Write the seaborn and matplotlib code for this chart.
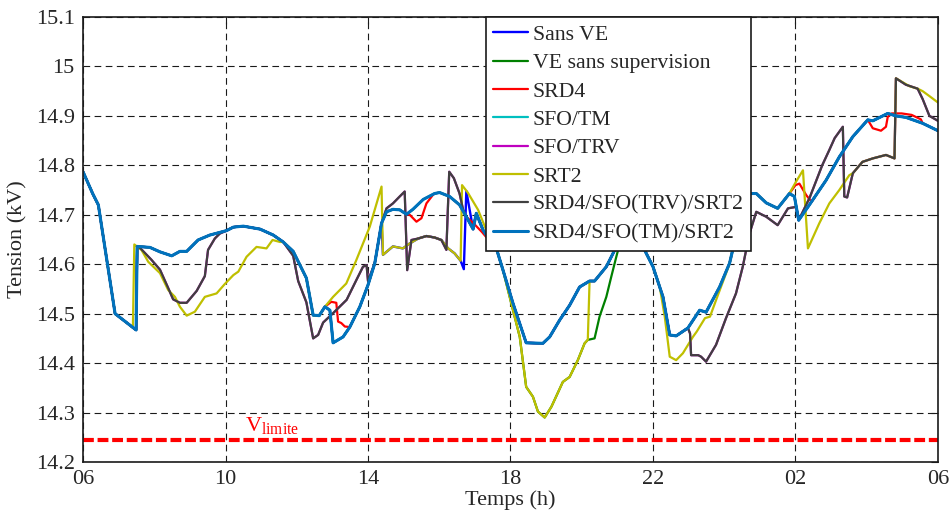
import numpy as np
import pandas as pd
import seaborn as sns
import matplotlib.pyplot as plt

# heures (6 -> 30 = 06h du lendemain) et tension (kV)
base_h = [6.00, 6.27, 6.43, 6.90, 7.49, 7.52, 7.88, 8.16, 8.49, 8.72, 8.91, 9.23, 9.56,
          10.03, 10.22, 10.50, 10.97, 11.34, 11.62, 11.90, 12.27, 12.46, 12.63, 12.79,
          12.93, 13.02, 13.30, 13.49, 13.77, 14.00, 14.19, 14.38, 14.52, 14.70, 14.89,
          15.08, 15.26, 15.55, 15.87, 16.01, 16.29, 16.57, 16.76, 16.95, 17.04, 17.23,
          17.40, 17.56, 17.79, 18.07, 18.44, 18.91, 19.10, 19.38, 19.66, 19.94, 20.22,
          20.36, 20.69, 20.97, 21.35, 21.72, 22.00, 22.28, 22.47, 22.65, 22.98, 23.31,
          23.49, 23.87, 24.15, 24.60, 24.76, 24.90, 25.18, 25.50, 25.83, 25.97, 26.09,
          26.39, 26.86, 27.23, 27.61, 28.03, 28.17, 28.59, 28.82, 29.10, 29.57, 30.00]
base_kv = [14.787, 14.743, 14.720, 14.500, 14.467, 14.636, 14.634, 14.625, 14.617, 14.626,
           14.626, 14.649, 14.659, 14.668, 14.675, 14.677, 14.671, 14.659, 14.645, 14.626,
           14.572, 14.497, 14.496, 14.514, 14.507, 14.441, 14.453, 14.473, 14.514, 14.558,
           14.602, 14.683, 14.706, 14.711, 14.710, 14.701, 14.711, 14.731, 14.743, 14.745,
           14.737, 14.720, 14.696, 14.671, 14.703, 14.669, 14.650, 14.642, 14.588, 14.521,
           14.441, 14.440, 14.453, 14.487, 14.517, 14.554, 14.566, 14.566, 14.595, 14.635,
           14.690, 14.635, 14.595, 14.534, 14.457, 14.455, 14.471, 14.507, 14.503, 14.554,
           14.602, 14.740, 14.743, 14.743, 14.724, 14.713, 14.743, 14.737, 14.689, 14.720,
           14.770, 14.817, 14.858, 14.892, 14.890, 14.905, 14.900, 14.897, 14.885, 14.870]

# SRT2 : portions qui s'écartent de la courbe de base
srt2_h = [[7.40, 7.44, 7.64, 7.83, 8.16, 8.39, 8.58, 8.72, 8.91, 9.14, 9.42, 9.75, 9.98,
           10.22, 10.36, 10.59, 10.87, 11.15, 11.32, 11.53],
          [12.79, 13.02, 13.39, 13.67, 14.05, 14.38, 14.42, 14.70, 14.98, 15.17, 15.41,
           15.64, 15.87, 16.06, 16.25, 16.43, 16.60, 16.64, 16.80, 17.09, 17.32, 17.56],
          [18.07, 18.26, 18.44, 18.63, 18.77, 18.96, 19.15, 19.47, 19.66, 19.89, 20.08, 20.17],
          [22.19, 22.33, 22.47, 22.65, 22.84, 23.12, 23.23, 23.46, 23.60, 23.84, 24.12],
          [25.83, 26.00, 26.21, 26.35, 26.67, 26.95, 27.23, 27.51, 27.61, 27.88, 28.17,
           28.54, 28.78, 28.82, 29.20, 29.43, 29.57, 29.76, 30.00]]
srt2_kv = [[14.472, 14.640, 14.629, 14.605, 14.582, 14.548, 14.534, 14.514, 14.496, 14.504,
            14.534, 14.541, 14.560, 14.578, 14.585, 14.615, 14.635, 14.632, 14.649, 14.645],
           [14.514, 14.534, 14.561, 14.608, 14.676, 14.757, 14.619, 14.636, 14.632, 14.642,
            14.652, 14.657, 14.654, 14.649, 14.632, 14.622, 14.607, 14.760, 14.745,
            14.710, 14.669, 14.642],
           [14.507, 14.453, 14.352, 14.332, 14.302, 14.290, 14.312, 14.362, 14.372, 14.406,
            14.440, 14.447],
           [14.554, 14.494, 14.413, 14.406, 14.420, 14.453, 14.464, 14.491, 14.494, 14.541,
            14.595],
           [14.743, 14.765, 14.790, 14.632, 14.683, 14.723, 14.750, 14.780, 14.784, 14.807,
            14.814, 14.821, 14.814, 14.976, 14.960, 14.955, 14.950, 14.940, 14.927]]

# SRD4/SFO(TRV)/SRT2
trv_h = [[7.60, 7.92, 8.16, 8.39, 8.53, 8.72, 8.91, 9.19, 9.42, 9.51, 9.70, 9.84],
         [11.90, 12.04, 12.27, 12.46, 12.60, 12.74, 13.02, 13.40, 13.68, 13.86, 13.96,
          14.00, 14.19, 14.38, 14.52, 14.70, 14.89, 15.03, 15.10, 15.22, 15.41, 15.64,
          15.87, 16.06, 16.20, 16.28, 16.41, 16.57, 16.67],
         [23.04, 23.07, 23.27, 23.35, 23.49, 23.77, 24.05, 24.33, 24.52, 24.71, 24.90,
          25.18, 25.50, 25.79, 26.02],
         [26.09, 26.40, 26.75, 26.95, 27.10, 27.33, 27.37, 27.45, 27.61, 27.88, 28.17,
          28.54, 28.78, 28.82, 29.10, 29.43, 29.57, 29.76, 30.00]]
trv_kv = [[14.633, 14.609, 14.589, 14.552, 14.529, 14.522, 14.522, 14.546, 14.576, 14.629,
           14.652, 14.662],
          [14.617, 14.566, 14.523, 14.450, 14.457, 14.482, 14.501, 14.528, 14.569, 14.595,
           14.598, 14.566, 14.602, 14.683, 14.713, 14.723, 14.737, 14.747, 14.588, 14.649,
           14.652, 14.657, 14.654, 14.649, 14.629, 14.787, 14.774, 14.743, 14.710],
          [14.460, 14.416, 14.416, 14.413, 14.403, 14.437, 14.491, 14.541, 14.595, 14.662,
           14.706, 14.696, 14.679, 14.713, 14.716],
          [14.689, 14.735, 14.800, 14.831, 14.855, 14.878, 14.737, 14.735, 14.784, 14.807,
           14.814, 14.821, 14.814, 14.976, 14.963, 14.955, 14.934, 14.900, 14.890]]

# SRD4
srd4_h = [[12.79, 12.97, 13.11, 13.16, 13.25, 13.35, 13.49],
          [15.08, 15.17, 15.36, 15.50, 15.64, 15.82],
          [16.76, 17.00, 17.20, 17.40],
          [25.83, 26.00, 26.11, 26.30, 26.45],
          [28.03, 28.17, 28.40, 28.54, 28.59, 28.70, 28.98, 29.26, 29.52]]
srd4_kv = [[14.514, 14.524, 14.522, 14.484, 14.481, 14.474, 14.473],
           [14.701, 14.700, 14.686, 14.693, 14.723, 14.740],
           [14.696, 14.680, 14.665, 14.648],
           [14.743, 14.760, 14.763, 14.740, 14.726],
           [14.892, 14.875, 14.870, 14.878, 14.898, 14.905, 14.905, 14.902, 14.893]]

# VE sans supervision (remontée en soirée)
vess_h = [[18.07, 18.26, 18.44, 18.63, 18.77, 18.96, 19.15, 19.47, 19.66, 19.89, 20.08,
           20.17, 20.36, 20.50, 20.69, 20.83, 20.97, 21.10]]
vess_kv = [[14.507, 14.453, 14.352, 14.332, 14.302, 14.290, 14.312, 14.362, 14.372, 14.406,
            14.440, 14.447, 14.450, 14.494, 14.534, 14.575, 14.615, 14.650]]

# Sans VE
sansve_h = [[14.38, 14.42, 14.70, 14.98, 15.17, 15.41, 15.64, 15.87, 16.06, 16.25, 16.43,
             16.60, 16.69, 16.76]]
sansve_kv = [[14.683, 14.619, 14.636, 14.632, 14.642, 14.652, 14.657, 14.654, 14.649,
              14.632, 14.622, 14.607, 14.590, 14.748]]

v_limite = 14.245
xtick_pos = [6, 10, 14, 18, 22, 26, 30]
xtick_lab = ['06', '10', '14', '18', '22', '02', '06']
ytick_pos = [14.2, 14.3, 14.4, 14.5, 14.6, 14.7, 14.8, 14.9, 15.0, 15.1]
ytick_lab = ['14.2', '14.3', '14.4', '14.5', '14.6', '14.7', '14.8', '14.9', '15', '15.1']


def splice(seg_h, seg_kv):
    # remplace la courbe de base sur l'intervalle de chaque segment
    h = np.array(base_h)
    kv = np.array(base_kv)
    for sh, sk in zip(seg_h, seg_kv):
        keep = (h < sh[0]) | (h > sh[-1])
        h = np.concatenate([h[keep], sh])
        kv = np.concatenate([kv[keep], sk])
        order = np.argsort(h, kind='stable')
        h, kv = h[order], kv[order]
    return pd.DataFrame({'h': h, 'kv': kv})


srt2 = splice(srt2_h, srt2_kv)
trv = splice(trv_h, trv_kv)
series = [
    ('Sans VE', splice(sansve_h, sansve_kv), '#0000FF', 1.7),
    ('VE sans supervision', splice(vess_h, vess_kv), '#008000', 1.6),
    ('SRD4', splice(srd4_h, srd4_kv), '#FF0000', 1.6),
    ('SFO/TM', splice([], []), '#00BFBF', 1.6),
    ('SFO/TRV', trv, '#BF00BF', 1.6),
    ('SRT2', srt2, '#BFBF00', 1.6),
    ('SRD4/SFO(TRV)/SRT2', trv, '#404040', 1.6),
    ('SRD4/SFO(TM)/SRT2', splice([], []), '#0072BD', 2.2),
]

sns.set_theme(style='white')
plt.rcParams['font.family'] = ['Liberation Serif', 'DejaVu Serif']
plt.rcParams['mathtext.fontset'] = 'custom'
plt.rcParams['mathtext.rm'] = 'Liberation Serif'

fig = plt.figure(figsize=(9.51, 5.15), dpi=100)
ax = fig.add_axes([0.0873, 0.1029, 0.8990, 0.8641])

for name, d, col, lw in series:
    sns.lineplot(data=d, x='h', y='kv', ax=ax, color=col, lw=lw, sort=False,
                 estimator=None, label=name)

ax.axhline(v_limite, color='#FF0000', lw=3, linestyle=(0, (2.6, 0.9)))
ax.text(10.55, 14.262, r'V$_{\mathrm{limite}}$', color='#FF0000', fontsize=16)

ax.set_xlim(6, 30)
ax.set_ylim(14.2, 15.1)
ax.set_xticks(xtick_pos)
ax.set_xticklabels(xtick_lab)
ax.set_yticks(ytick_pos)
ax.set_yticklabels(ytick_lab)
ax.tick_params(direction='in', length=5, width=0.8, top=True, right=True,
               labelsize=16, color='k', pad=6)
ax.grid(True, color='k', lw=0.8, linestyle=(0, (6, 4)))
for sp in ax.spines.values():
    sp.set_color('k')
    sp.set_linewidth(1.2)
ax.set_xlabel('Temps (h)', fontsize=16, labelpad=1)
ax.set_ylabel('Tension (kV)', fontsize=16, labelpad=6)

leg = ax.legend(loc='upper left', bbox_to_anchor=(0.471, 1.0), borderaxespad=0,
                fontsize=15.7, frameon=True, fancybox=False, handlelength=1.6,
                handletextpad=0.2, labelspacing=0.37, borderpad=0.35)
leg.get_frame().set_edgecolor('k')
leg.get_frame().set_linewidth(1.2)
leg.get_frame().set_alpha(1)

fig.savefig('out.png', dpi=100)
